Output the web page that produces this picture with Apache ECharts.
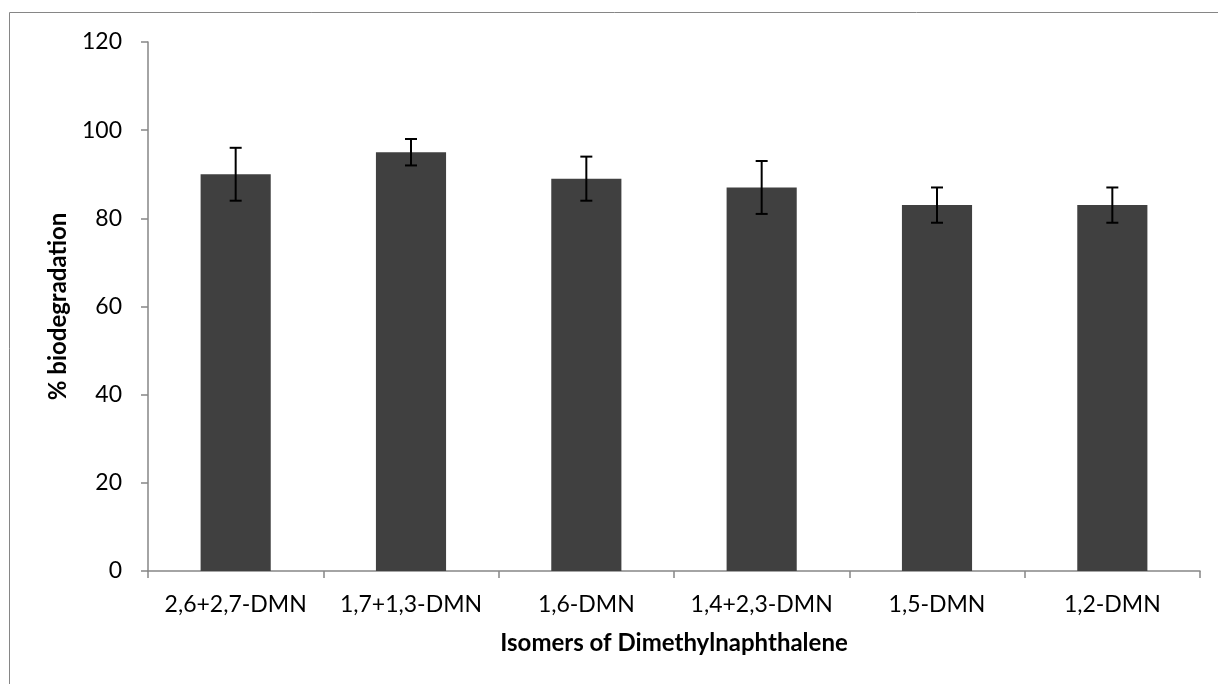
<!DOCTYPE html>
<html>
<head>
<meta charset="utf-8">
<script src="https://cdn.jsdelivr.net/npm/echarts@6/dist/echarts.min.js"></script>
<style>html,body{margin:0;padding:0;background:#fff;}#c{width:1218px;height:684px;}</style>
</head>
<body>
<div id="c"></div>
<script>
const categories = ['2,6+2,7-DMN', '1,7+1,3-DMN', '1,6-DMN', '1,4+2,3-DMN', '1,5-DMN', '1,2-DMN'];
const values = [90, 95, 89, 87, 83, 83];
const errors = [6, 3, 5, 6, 4, 4];
const yTicks = [0, 20, 40, 60, 80, 100, 120];

const FONT = 'Lato, "Open Sans", sans-serif';
const chart = echarts.init(document.getElementById('c'), null, {renderer: 'canvas'});
const errData = categories.map((c, i) => [i, values[i] - errors[i], values[i] + errors[i]]);

chart.setOption({
  animation: false,
  backgroundColor: '#fff',
  graphic: [{
    type: 'rect', shape: {x: 9.5, y: 12.5, width: 1230, height: 700},
    style: {fill: 'none', stroke: '#868686', lineWidth: 1}, z: -1
  }],
  grid: {left: 148, right: 18, top: 42, bottom: 113},
  xAxis: {
    type: 'category', data: categories,
    name: 'Isomers of Dimethylnaphthalene', nameLocation: 'middle', nameGap: 60,
    nameTextStyle: {fontFamily: FONT, fontSize: 24, fontWeight: 'bold', color: '#000'},
    axisLine: {lineStyle: {color: '#868686', width: 1.5}},
    axisTick: {show: true, interval: 0, length: 7, alignWithLabel: false, lineStyle: {color: '#868686', width: 1.5}},
    axisLabel: {interval: 0, hideOverlap: false, fontFamily: FONT, fontSize: 23, color: '#000', margin: 22}
  },
  yAxis: {
    type: 'value', min: 0, max: 120, interval: 20,
    name: '% biodegradation', nameLocation: 'middle', nameGap: 78,
    nameTextStyle: {fontFamily: FONT, fontSize: 24, fontWeight: 'bold', color: '#000'},
    axisLine: {show: true, lineStyle: {color: '#868686', width: 1.5}},
    axisTick: {show: true, length: 7, lineStyle: {color: '#868686', width: 1.5}},
    splitLine: {show: false},
    axisLabel: {fontFamily: FONT, fontSize: 23, color: '#000', margin: 26,
      formatter: v => yTicks.includes(v) ? String(v) : ''}
  },
  series: [{
    type: 'bar', data: values, barWidth: '40%',
    itemStyle: {color: '#404040'}
  }, {
    type: 'custom', data: errData, z: 10,
    renderItem: function (params, api) {
      const x = api.value(0);
      const lo = api.coord([x, api.value(1)]);
      const hi = api.coord([x, api.value(2)]);
      const hw = 6;
      const st = {stroke: '#000', lineWidth: 2};
      return {type: 'group', children: [
        {type: 'line', shape: {x1: lo[0], y1: lo[1], x2: hi[0], y2: hi[1]}, style: st},
        {type: 'line', shape: {x1: lo[0] - hw, y1: lo[1], x2: lo[0] + hw, y2: lo[1]}, style: st},
        {type: 'line', shape: {x1: hi[0] - hw, y1: hi[1], x2: hi[0] + hw, y2: hi[1]}, style: st}
      ]};
    }
  }]
});
</script>
</body>
</html>
